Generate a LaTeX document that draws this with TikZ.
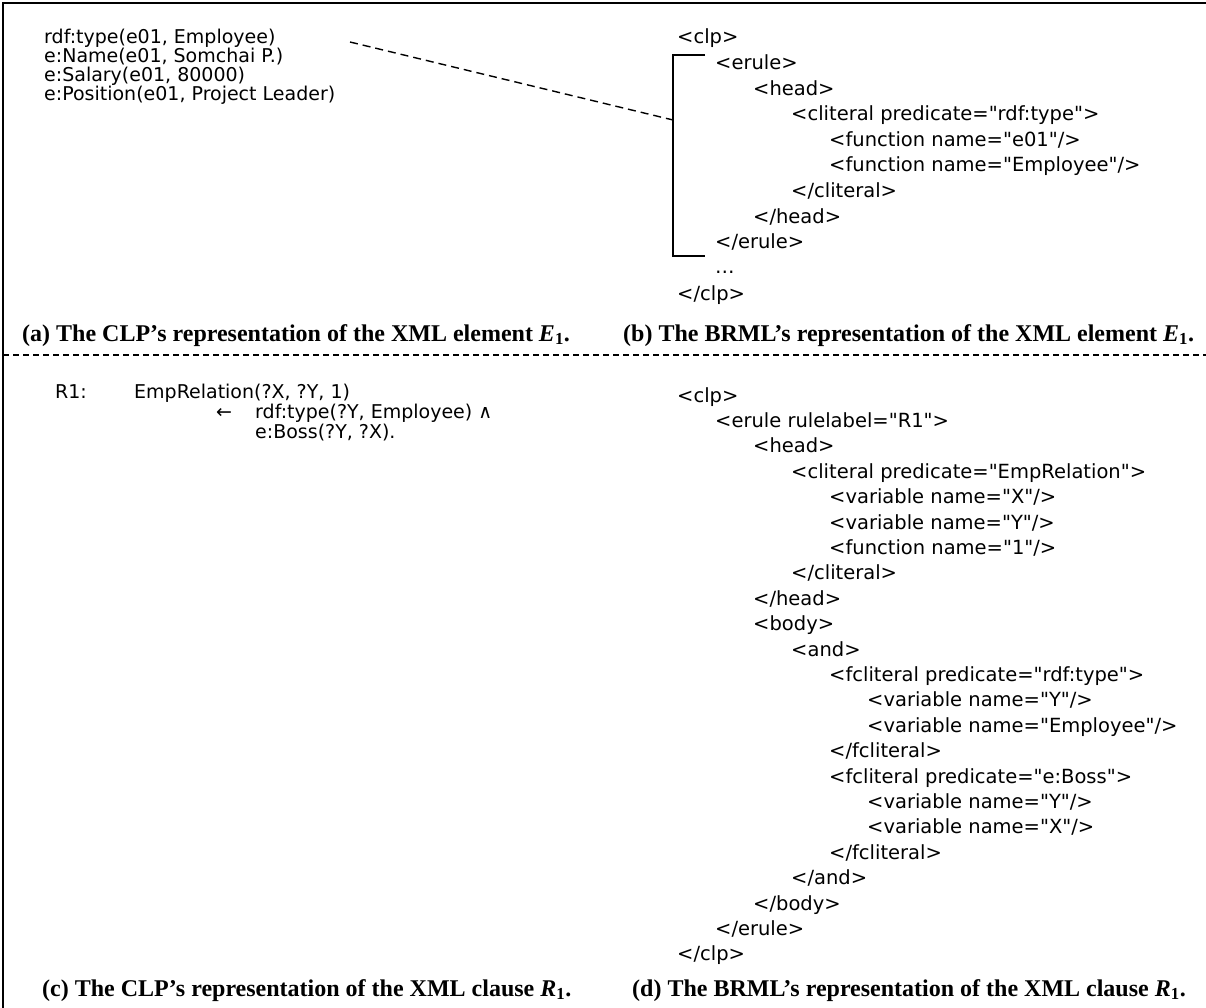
\documentclass[tikz,border=0pt]{standalone}
\usepackage{fontspec}
\setmainfont{Liberation Serif}
\newfontfamily\xmlfont{DejaVu Sans}
\newcommand\xmlline[4]{\node[code] (#1) at ({677+38*#2},{#3+7}) {#4};}
\begin{document}
\begin{tikzpicture}[x=1pt,y=-1pt,
  code/.style={font=\xmlfont\fontsize{19.5}{23}\selectfont, anchor=base west, inner sep=0pt},
  clp/.style={font=\xmlfont\fontsize{19}{23}\selectfont, anchor=base west, inner sep=0pt},
  captext/.style={font=\fontsize{24}{28}\selectfont\bfseries, anchor=base west, inner sep=0pt},
  frameline/.style={line width=2.5pt},
  sepline/.style={line width=1.4pt, dash pattern=on 6pt off 4pt},
  linkline/.style={line width=1.4pt, dash pattern=on 8pt off 5pt},
  brack/.style={line width=2pt}]
\useasboundingbox (0,0) rectangle (1206,1008);
\fill[white] (0,0) rectangle (1206,1008);
% frame (right and bottom edges lie outside the picture)
\draw[frameline] (3,1012) -- (3,3) -- (1210,3);
% separator
\draw[sepline] (3,355) -- (1206,355);

% (a) CLP element
\node[clp] (l1) at (44,43.5) {rdf:type(e01, Employee)};
\node[clp] (l2) at (44,62.5) {e:Name(e01, Somchai P.)};
\node[clp] (l3) at (44,81.5) {e:Salary(e01, 80000)};
\node[clp] (l4) at (44,100.5) {e:Position(e01, Project Leader)};

% (b) BRML element
\xmlline{b0}{0}{37}{<clp>}
\xmlline{b1}{1}{62.6}{<erule>}
\xmlline{b2}{2}{88.2}{<head>}
\xmlline{b3}{3}{113.8}{<cliteral predicate="rdf:type">}
\xmlline{b4}{4}{139.4}{<function name="e01"/>}
\xmlline{b5}{4}{165}{<function name="Employee"/>}
\xmlline{b6}{3}{190.6}{</cliteral>}
\xmlline{b7}{2}{216.2}{</head>}
\xmlline{b8}{1}{241.8}{</erule>}
\xmlline{b9}{1}{266}{…}
\xmlline{b10}{0}{293}{</clp>}

% bracket and dashed link
\coordinate (bt) at (673,55);
\coordinate (bb) at (673,256);
\coordinate (bm) at (673,120);
\coordinate (ds) at (350,42);
\draw[brack] ([xshift=32pt]bt) -- (bt) -- (bb) -- ([xshift=32pt]bb);
\draw[linkline] (ds) -- (bm);

% captions a, b
\node[captext] (capa) at (22,341) {(a) The CLP’s representation of the XML element {\itshape E}\textsubscript{1}.};
\node[captext] (capb) at (623,341) {(b) The BRML’s representation of the XML element {\itshape E}\textsubscript{1}.};

% (c) CLP clause
\node[clp] (r1) at (55,398) {R1:};
\node[clp] (r2) at (134,398) {EmpRelation(?X, ?Y, 1)};
\node[clp] (r3) at (216,418) {←};
\node[clp] (r4) at (255,418) {rdf:type(?Y, Employee) ∧};
\node[clp] (r5) at (255,438) {e:Boss(?Y, ?X).};

% (d) BRML clause
\xmlline{d0}{0}{395}{<clp>}
\xmlline{d1}{1}{420.4}{<erule rulelabel="R1">}
\xmlline{d2}{2}{445.8}{<head>}
\xmlline{d3}{3}{471.2}{<cliteral predicate="EmpRelation">}
\xmlline{d4}{4}{496.6}{<variable name="X"/>}
\xmlline{d5}{4}{522}{<variable name="Y"/>}
\xmlline{d6}{4}{547.4}{<function name="1"/>}
\xmlline{d7}{3}{572.8}{</cliteral>}
\xmlline{d8}{2}{598.2}{</head>}
\xmlline{d9}{2}{623.6}{<body>}
\xmlline{d10}{3}{649}{<and>}
\xmlline{d11}{4}{674.4}{<fcliteral predicate="rdf:type">}
\xmlline{d12}{5}{699.8}{<variable name="Y"/>}
\xmlline{d13}{5}{725.2}{<variable name="Employee"/>}
\xmlline{d14}{4}{750.6}{</fcliteral>}
\xmlline{d15}{4}{776}{<fcliteral predicate="e:Boss">}
\xmlline{d16}{5}{801.4}{<variable name="Y"/>}
\xmlline{d17}{5}{826.8}{<variable name="X"/>}
\xmlline{d18}{4}{852.2}{</fcliteral>}
\xmlline{d19}{3}{877.6}{</and>}
\xmlline{d20}{2}{903}{</body>}
\xmlline{d21}{1}{928.4}{</erule>}
\xmlline{d22}{0}{953.8}{</clp>}

% captions c, d
\node[captext] (capc) at (42,996) {(c) The CLP’s representation of the XML clause {\itshape R}\textsubscript{1}.};
\node[captext] (capd) at (632,996) {(d) The BRML’s representation of the XML clause {\itshape R}\textsubscript{1}.};
\end{tikzpicture}
\end{document}
